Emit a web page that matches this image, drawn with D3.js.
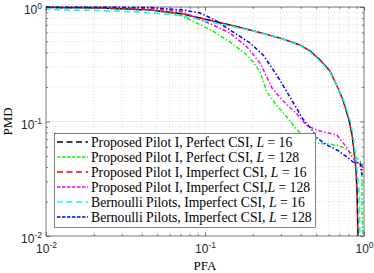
<!DOCTYPE html>
<html>
<head>
<meta charset="utf-8">
<script src="https://cdn.jsdelivr.net/npm/d3@7"></script>
<style>
  body { margin: 0; background: #fff; }
  svg { display: block; }
</style>
</head>
<body>
<div id="chart"></div>
<script>
// series: PFA (x) and PMD (y)
let pp16_pfa  = [0.01, 0.0219, 0.0451, 0.0728, 0.1436, 0.203, 0.296, 0.396, 0.458, 0.529, 0.611, 0.686, 0.738, 0.805, 0.841, 0.865, 0.891, 0.904, 0.917];
let pp16_pmd  = [0.99, 0.98, 0.942, 0.869, 0.696, 0.617, 0.536, 0.466, 0.413, 0.344, 0.276, 0.196, 0.154, 0.103, 0.0762, 0.0564, 0.0377, 0.0252, 0.01];

let pp128_pfa = [0.01, 0.0219, 0.039, 0.0521, 0.0697, 0.112, 0.1436, 0.1837, 0.2005, 0.222, 0.245, 0.284, 0.328, 0.379, 0.426, 0.492, 0.611, 0.706, 0.782, 0.877, 0.971, 0.971, 0.986];
let pp128_pmd = [0.99, 0.98, 0.961, 0.923, 0.851, 0.617, 0.495, 0.381, 0.331, 0.271, 0.181, 0.137, 0.109, 0.0843, 0.0732, 0.0649, 0.0636, 0.0611, 0.0564, 0.05, 0.0434, 0.0169, 0.01];

let pi16_pfa  = pp16_pfa;
let pi16_pmd  = pp16_pmd;

let pi128_pfa = [0.01, 0.0292, 0.0451, 0.0728, 0.1156, 0.1436, 0.1837, 0.222, 0.264, 0.310, 0.379, 0.438, 0.529, 0.676, 0.782, 0.841, 0.904, 0.971, 0.971];
let pi128_pmd = [0.995, 0.99, 0.97, 0.904, 0.682, 0.593, 0.448, 0.324, 0.196, 0.151, 0.116, 0.0914, 0.0826, 0.0762, 0.0587, 0.049, 0.0443, 0.0417, 0.0341];

let bi16_pfa  = [0.01, 0.0122, 0.0219, 0.039, 0.0697, 0.108, 0.1436, 0.203, 0.296, 0.396, 0.458, 0.529, 0.611, 0.686, 0.748, 0.817, 0.854, 0.877, 0.904, 0.930, 0.944];
let bi16_pmd  = [0.961, 0.942, 0.932, 0.904, 0.843, 0.740, 0.682, 0.617, 0.536, 0.461, 0.405, 0.337, 0.271, 0.196, 0.151, 0.103, 0.0762, 0.0564, 0.0377, 0.0252, 0.01];

let bi128_pfa = [0.01, 0.0451, 0.0728, 0.093, 0.1156, 0.1436, 0.192, 0.232, 0.264, 0.296, 0.357, 0.413, 0.471, 0.506, 0.585, 0.676, 0.782, 0.854, 0.944, 0.971];
let bi128_pmd = [0.998, 0.99, 0.942, 0.886, 0.770, 0.630, 0.485, 0.381, 0.293, 0.230, 0.148, 0.105, 0.0843, 0.0718, 0.0623, 0.0564, 0.049, 0.0443, 0.0434, 0.0341];

let legend_labels = [
  ['Proposed Pilot I, Perfect CSI, ', '16'],
  ['Proposed Pilot I, Perfect CSI, ', '128'],
  ['Proposed Pilot I, Imperfect CSI, ', '16'],
  ['Proposed Pilot I, Imperfect CSI,', '128'],
  ['Bernoulli Pilots, Imperfect CSI, ', '16'],
  ['Bernoulli Pilots, Imperfect CSI, ', '128']
];

let major_ticks = [0.01, 0.1, 1];
let tick_exps   = ['-2', '-1', '0'];
let minor_ticks = [2,3,4,5,6,7,8,9].flatMap(m => [m * 0.01, m * 0.1]);

let chart_width  = 374;
let chart_height = 273;
let m = { left: 46, right: 10, top: 7, bottom: 37 };

let svg = d3.select('#chart')
  .append('svg')
  .attr('width', chart_width)
  .attr('height', chart_height);

//scales
let x_scale = d3.scaleLog().domain([0.01, 1]).range([m.left, chart_width - m.right]);
let y_scale = d3.scaleLog().domain([0.01, 1]).range([chart_height - m.bottom, m.top]);

let x0 = m.left, x1 = chart_width - m.right, y0 = m.top, y1 = chart_height - m.bottom;

//grid
let grid = svg.append('g');
grid.selectAll('.vmin').data(minor_ticks).enter().append('line')
  .attr('x1', d => x_scale(d)).attr('x2', d => x_scale(d))
  .attr('y1', y0).attr('y2', y1)
  .attr('stroke', '#c8c8c8').attr('stroke-width', 0.6).attr('stroke-dasharray', '1,2');
grid.selectAll('.hmin').data(minor_ticks).enter().append('line')
  .attr('y1', d => y_scale(d)).attr('y2', d => y_scale(d))
  .attr('x1', x0).attr('x2', x1)
  .attr('stroke', '#c8c8c8').attr('stroke-width', 0.6).attr('stroke-dasharray', '1,2');
grid.selectAll('.vmaj').data(major_ticks).enter().append('line')
  .attr('x1', d => x_scale(d)).attr('x2', d => x_scale(d))
  .attr('y1', y0).attr('y2', y1)
  .attr('stroke', '#e0e0e0').attr('stroke-width', 0.6);
grid.selectAll('.hmaj').data(major_ticks).enter().append('line')
  .attr('y1', d => y_scale(d)).attr('y2', d => y_scale(d))
  .attr('x1', x0).attr('x2', x1)
  .attr('stroke', '#e0e0e0').attr('stroke-width', 0.6);

//curves
let series = [
  { x: pp16_pfa,  y: pp16_pmd,  color: '#000000', dash: '6,4' },
  { x: pp128_pfa, y: pp128_pmd, color: '#00ff00', dash: '4,2,1.5,2' },
  { x: pi16_pfa,  y: pi16_pmd,  color: '#ff0000', dash: '6,4', offset: 5 },
  { x: pi128_pfa, y: pi128_pmd, color: '#ff00ff', dash: '4,2,1.5,2' },
  { x: bi16_pfa,  y: bi16_pmd,  color: '#00ffff', dash: '6,4', offset: 2 },
  { x: bi128_pfa, y: bi128_pmd, color: '#0000ff', dash: '4,2,1.5,2' }
];

let line = d3.line()
  .x(d => x_scale(d[0]))
  .y(d => y_scale(d[1]));

let plot = svg.append('g');
series.forEach(s => {
  let pts = s.x.map((v, i) => [v, s.y[i]]);
  plot.append('path')
    .attr('d', line(pts))
    .attr('fill', 'none')
    .attr('stroke', s.color)
    .attr('stroke-width', 1.5)
    .attr('stroke-dasharray', s.dash)
    .attr('stroke-dashoffset', s.offset || 0);
});

//axes
let axis_color = '#333';
function styleAxis(g) {
  g.select('.domain').remove();
  g.selectAll('line').attr('stroke', axis_color).attr('stroke-width', 0.6);
}

svg.append('g').attr('transform', 'translate(0,' + y1 + ')')
  .call(d3.axisBottom(x_scale).tickValues(minor_ticks).tickSize(-2).tickFormat(''))
  .call(styleAxis);
svg.append('g').attr('transform', 'translate(0,' + y0 + ')')
  .call(d3.axisTop(x_scale).tickValues(minor_ticks).tickSize(-2).tickFormat(''))
  .call(styleAxis);
svg.append('g').attr('transform', 'translate(' + x0 + ',0)')
  .call(d3.axisLeft(y_scale).tickValues(minor_ticks).tickSize(-2).tickFormat(''))
  .call(styleAxis);
svg.append('g').attr('transform', 'translate(' + x1 + ',0)')
  .call(d3.axisRight(y_scale).tickValues(minor_ticks).tickSize(-2).tickFormat(''))
  .call(styleAxis);

svg.append('g').attr('transform', 'translate(0,' + y0 + ')')
  .call(d3.axisTop(x_scale).tickValues(major_ticks).tickSize(-4).tickFormat(''))
  .call(styleAxis);
svg.append('g').attr('transform', 'translate(' + x1 + ',0)')
  .call(d3.axisRight(y_scale).tickValues(major_ticks).tickSize(-4).tickFormat(''))
  .call(styleAxis);

let x_axis = svg.append('g').attr('transform', 'translate(0,' + y1 + ')')
  .call(d3.axisBottom(x_scale).tickValues(major_ticks).tickSize(-4).tickPadding(7).tickFormat(''))
  .call(styleAxis);
let y_axis = svg.append('g').attr('transform', 'translate(' + x0 + ',0)')
  .call(d3.axisLeft(y_scale).tickValues(major_ticks).tickSize(-4).tickPadding(4).tickFormat(''))
  .call(styleAxis);

function supLabel(sel) {
  sel.selectAll('.tick text').each(function(d, i) {
    let t = d3.select(this)
      .attr('font-family', '"Liberation Sans", Arial, sans-serif')
      .attr('font-size', 12)
      .attr('fill', '#262626');
    t.append('tspan').text('10');
    t.append('tspan').text(tick_exps[i]).attr('font-size', 8.5).attr('dy', '-0.6em');
  });
}
x_axis.call(supLabel);
x_axis.selectAll('.tick text').attr('dy', '0.85em');
y_axis.call(supLabel);
y_axis.selectAll('.tick text').attr('dy', '0.55em');

//frame
svg.append('rect')
  .attr('x', x0).attr('y', y0)
  .attr('width', x1 - x0).attr('height', y1 - y0)
  .attr('fill', 'none').attr('stroke', axis_color).attr('stroke-width', 0.6);

//axis labels
svg.append('text')
  .attr('x', (x0 + x1) / 2).attr('y', 269.5)
  .attr('text-anchor', 'middle')
  .attr('font-family', '"Liberation Serif", "Times New Roman", serif')
  .attr('font-size', 13)
  .text('PFA');
svg.append('text')
  .attr('transform', 'translate(12,' + (y0 + y1) / 2 + ') rotate(-90)')
  .attr('text-anchor', 'middle')
  .attr('font-family', '"Liberation Serif", "Times New Roman", serif')
  .attr('font-size', 13)
  .text('PMD');

//legend
let lg = svg.append('g');
lg.append('rect')
  .attr('x', 54.5).attr('y', 133.5)
  .attr('width', 261).attr('height', 94)
  .attr('fill', '#fff').attr('stroke', '#333').attr('stroke-width', 0.6);

legend_labels.forEach((lab, i) => {
  let cy = 142 + i * 15;
  let s = series[i];
  lg.append('line')
    .attr('x1', 57).attr('x2', 88)
    .attr('y1', cy).attr('y2', cy)
    .attr('stroke', s.color).attr('stroke-width', 1.5)
    .attr('stroke-dasharray', s.dash === '6,4' ? '6,3.5' : '3.5,1.5');
  let t = lg.append('text')
    .attr('x', 91).attr('y', cy + 4.5)
    .attr('font-family', '"Liberation Serif", "Times New Roman", serif')
    .attr('font-size', 13.7)
    .attr('fill', '#000');
  t.append('tspan').text(lab[0]);
  t.append('tspan').attr('font-style', 'italic').text('L');
  t.append('tspan').text(' = ' + lab[1]);
});
</script>
</body>
</html>
